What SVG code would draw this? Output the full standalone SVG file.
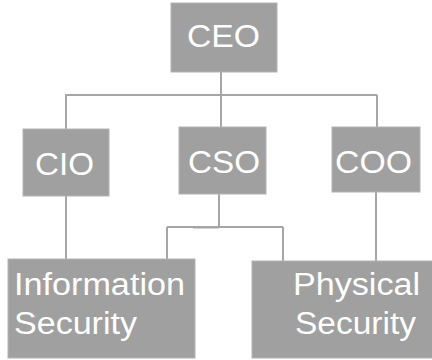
<svg xmlns="http://www.w3.org/2000/svg" width="432" height="360" viewBox="0 0 432 360">
  <style>
    .box { fill: #a0a0a0; stroke: #b4b4b4; stroke-width: 1; }
    .lbl { fill: #ffffff; font-family: "Liberation Sans", Arial, sans-serif; font-size: 31px; }
    .wire { fill: none; stroke: #a6a6a6; stroke-width: 2; }
  </style>
  <rect width="432" height="360" fill="#ffffff"/>
  <g id="connectors">
    <path class="wire" d="M221 72 V95 M65 95 H377 M66 95 V129 M221 95 V127 M377 95 V127"/>
    <path class="wire" d="M66 196 V259"/>
    <path class="wire" d="M219 194 V227 M167 227 H283 M167 227 V259 M283 227 V261"/>
    <path class="wire" d="M193 227.5 H219" stroke-width="3"/>
    <path class="wire" d="M376 192 V261"/>
  </g>
  <g id="ceo">
    <rect class="box" x="171" y="3" width="106" height="69"/>
    <text class="lbl" x="187" y="47" textLength="73" lengthAdjust="spacingAndGlyphs">CEO</text>
  </g>
  <g id="cio">
    <rect class="box" x="23" y="129" width="86" height="67"/>
    <text class="lbl" x="35" y="175" textLength="59" lengthAdjust="spacingAndGlyphs">CIO</text>
  </g>
  <g id="cso">
    <rect class="box" x="179" y="127" width="87" height="67"/>
    <text class="lbl" x="188" y="173" textLength="72" lengthAdjust="spacingAndGlyphs">CSO</text>
  </g>
  <g id="coo">
    <rect class="box" x="332" y="127" width="88" height="65"/>
    <text class="lbl" x="335" y="173" textLength="77" lengthAdjust="spacingAndGlyphs">COO</text>
  </g>
  <g id="information-security">
    <rect class="box" x="8" y="259" width="187" height="99"/>
    <text class="lbl" x="14" y="295" textLength="171" lengthAdjust="spacingAndGlyphs">Information</text>
    <text class="lbl" x="14" y="334" textLength="123" lengthAdjust="spacingAndGlyphs">Security</text>
  </g>
  <g id="physical-security">
    <rect class="box" x="252" y="261" width="182" height="97"/>
    <text class="lbl" x="293" y="295" textLength="127" lengthAdjust="spacingAndGlyphs">Physical</text>
    <text class="lbl" x="295" y="334" textLength="121" lengthAdjust="spacingAndGlyphs">Security</text>
  </g>
</svg>
